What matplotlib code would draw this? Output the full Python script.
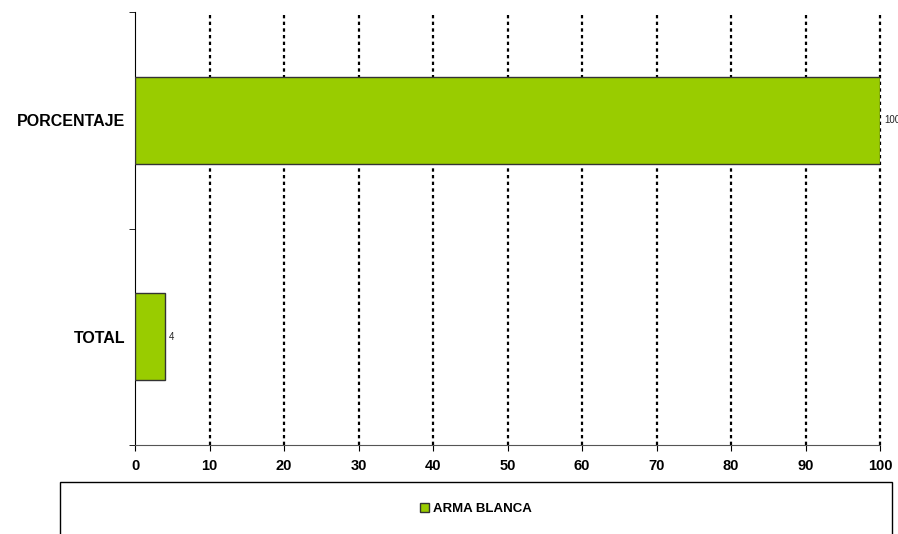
import matplotlib
matplotlib.use("Agg")
import matplotlib.pyplot as plt
from matplotlib.patches import Rectangle

plt.rcParams['font.family'] = ['Liberation Sans', 'DejaVu Sans']

# data
categories = ["TOTAL", "PORCENTAJE"]
values = [4, 100]
series_name = "ARMA BLANCA"
x_ticks = [0, 10, 20, 30, 40, 50, 60, 70, 80, 90, 100]

fig = plt.figure(figsize=(8.98, 5.34), dpi=100)
ax = fig.add_axes([135 / 898, 1 - 445 / 534, 745 / 898, 433 / 534])

pos = list(range(len(categories)))
bars = ax.barh(pos, values, height=0.4, color='#99cc00', edgecolor='#333333',
               linewidth=1.0, label=series_name, zorder=3)

for b, v in zip(bars, values):
    ax.text(b.get_width() + 0.6, b.get_y() + b.get_height() / 2, str(v),
            va='center', ha='left', fontsize=7, color='#222222', zorder=4,
            clip_on=False)

ax.set_xlim(0, 100)
ax.set_ylim(-0.5, 1.5)
ax.set_xticks(x_ticks)
ax.set_xticklabels([str(t) for t in x_ticks], fontsize=10.5, fontweight='bold')
ax.set_yticks(pos)
ax.set_yticklabels(categories, fontsize=11.5, fontweight='bold')
ax.set_yticks([-0.5, 0.5, 1.5], minor=True)
ax.tick_params(axis='y', which='major', length=0, pad=7)
ax.tick_params(axis='y', which='minor', length=4, color='black')
ax.tick_params(axis='x', length=4, direction='out', pad=6, color='black')

ax.xaxis.grid(True, linestyle=(0, (1.5, 1.5)), color='black', linewidth=1.6, zorder=1)
gridlines = ax.get_xgridlines()
gridlines[0].set_visible(False)
gridlines[-1].set_clip_on(False)
ax.set_axisbelow(True)

for s in ['top', 'right']:
    ax.spines[s].set_visible(False)
ax.spines['left'].set_color('black')
ax.spines['bottom'].set_color('#555555')

# legend frame at the bottom
fig.patches.append(Rectangle((60 / 898, -0.05), 832 / 898, 1 - 482 / 534 + 0.05,
                             transform=fig.transFigure, fill=False,
                             edgecolor='black', linewidth=1.0))
fig.legend(handles=[bars], labels=[series_name], loc='center',
           bbox_to_anchor=(476 / 898, 1 - 509 / 534), frameon=False,
           prop={'size': 9.5, 'weight': 'bold'}, handlelength=0.7, handleheight=0.7,
           handletextpad=0.3)

fig.savefig("out.png", dpi=100)
